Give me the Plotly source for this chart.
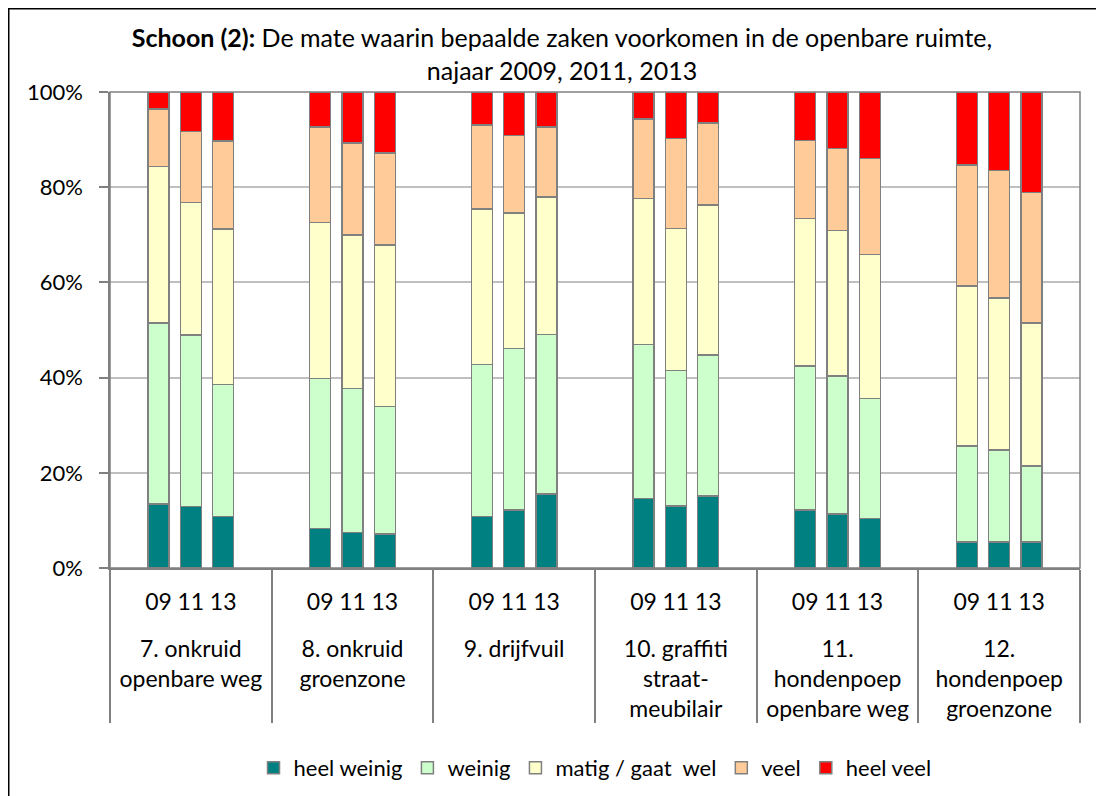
import plotly.graph_objects as go

groups = [
    "7. onkruid<br>openbare weg",
    "8. onkruid<br>groenzone",
    "9. drijfvuil",
    "10. graffiti<br>straat-<br>meubilair",
    "11.<br>hondenpoep<br>openbare weg",
    "12.<br>hondenpoep<br>groenzone",
]
years = ["09", "11", "13"]

series_names = ["heel weinig", "weinig", "matig / gaat  wel", "veel", "heel veel"]
series_colors = ["#008080", "#CCFFCC", "#FFFFCC", "#FFCC99", "#FF0000"]

heel_weinig = [13.4, 12.9, 10.8, 8.3, 7.5, 7.1, 10.8, 12.2, 15.5, 14.6, 13.0, 15.1, 12.2, 11.3, 10.4, 5.5, 5.5, 5.5]
weinig = [38.1, 36.1, 27.7, 31.5, 30.2, 26.8, 32.0, 33.9, 33.6, 32.4, 28.5, 29.6, 30.2, 29.0, 25.2, 20.1, 19.3, 15.9]
matig = [32.8, 27.8, 32.7, 32.8, 32.3, 34.0, 32.6, 28.5, 28.8, 30.6, 29.8, 31.6, 31.0, 30.6, 30.3, 33.6, 31.9, 30.1]
veel = [12.1, 14.9, 18.5, 20.0, 19.3, 19.3, 17.7, 16.3, 14.7, 16.7, 18.9, 17.2, 16.4, 17.2, 20.1, 25.5, 26.8, 27.4]
heel_veel = [3.6, 8.3, 10.3, 7.4, 10.7, 12.8, 6.9, 9.1, 7.4, 5.7, 9.8, 6.5, 10.2, 11.9, 14.0, 15.3, 16.5, 21.1]

series_values = [heel_weinig, weinig, matig, veel, heel_veel]

y_ticks = [0, 20, 40, 60, 80, 100]
y_ticktext = ["0%", "20%", "40%", "60%", "80%", "100%"]

FONT = "Lato, 'Liberation Sans', Arial, sans-serif"

# category slots: an empty slot on each side of the three years in every group
slots = [" "] + years + ["  "]
x_outer, x_inner = [], []
for g in groups:
    for s in slots:
        x_outer.append("<br>" + g)  # blank first line = extra gap below the year labels
        x_inner.append(s)

fig = go.Figure()
for name, col, vals in zip(series_names, series_colors, series_values):
    y = []
    for gi in range(len(groups)):
        y.append(None)
        for yi in range(len(years)):
            y.append(vals[gi * len(years) + yi])
        y.append(None)
    fig.add_bar(
        x=[x_outer, x_inner], y=y, name=name,
        marker=dict(color=col, line=dict(color="#808080", width=1.5)),
    )

# page body adds an 8px offset; figure sized to fit the window
OFF = 8
W, H = 1096, 788
ML, MR, MT, MB = 110 - OFF, 24, 92 - OFF, 788 - (568 - OFF)
pw, ph = W - ML - MR, H - MT - MB

def px_x(p):  # screen px -> paper
    return (p - OFF - ML) / pw

def px_y(p):
    return (H - MB - (p - OFF)) / ph

fig.update_layout(
    width=W, height=H,
    margin=dict(l=ML, r=MR, t=MT, b=MB, autoexpand=False),
    barmode="stack",
    bargap=0.35,
    plot_bgcolor="white",
    paper_bgcolor="white",
    font=dict(family=FONT, size=23, color="black"),
    title=dict(
        text="<b>Schoon (2):</b> De mate waarin bepaalde zaken voorkomen in de openbare ruimte,<br>najaar 2009, 2011, 2013",
        x=(562 - OFF) / W, xref="container", xanchor="center",
        y=1 - (47 - OFF) / H, yref="container", yanchor="middle",
        font=dict(family=FONT, size=25, color="black"),
    ),
    xaxis=dict(
        type="multicategory",
        showdividers=True, dividercolor="#808080", dividerwidth=1.5,
        showline=True, linecolor="#808080", linewidth=1.5,
        ticks="", showgrid=False, tickangle=0, automargin=False,
        ticklabelstandoff=13,
        tickfont=dict(family=FONT, size=23, color="black"),
    ),
    yaxis=dict(
        range=[0, 100], tickvals=y_ticks, ticktext=y_ticktext,
        showgrid=True, gridcolor="#BFBFBF", gridwidth=1.5,
        showline=True, linecolor="#808080", linewidth=1.5,
        ticks="outside", ticklen=9, tickcolor="#808080", tickwidth=1.5,
        ticklabelstandoff=12, automargin=False,
        zeroline=False,
        tickfont=dict(family=FONT, size=22, color="black"),
    ),
    legend=dict(
        orientation="h", x=0.5, xanchor="center",
        y=px_y(768), yanchor="middle",
        font=dict(family=FONT, size=22, color="black"),
        traceorder="normal",
    ),
    showlegend=True,
)

# plot-area border
fig.add_shape(type="rect", xref="paper", yref="paper", x0=0, x1=1, y0=0, y1=1,
              line=dict(color="#808080", width=1.5), layer="above")
# chart outer border
fig.add_shape(type="rect", xref="paper", yref="paper",
              x0=px_x(8.75), x1=px_x(1130), y0=px_y(830), y1=px_y(8.75),
              line=dict(color="black", width=1.5), layer="below")

fig.write_html("out.html")
